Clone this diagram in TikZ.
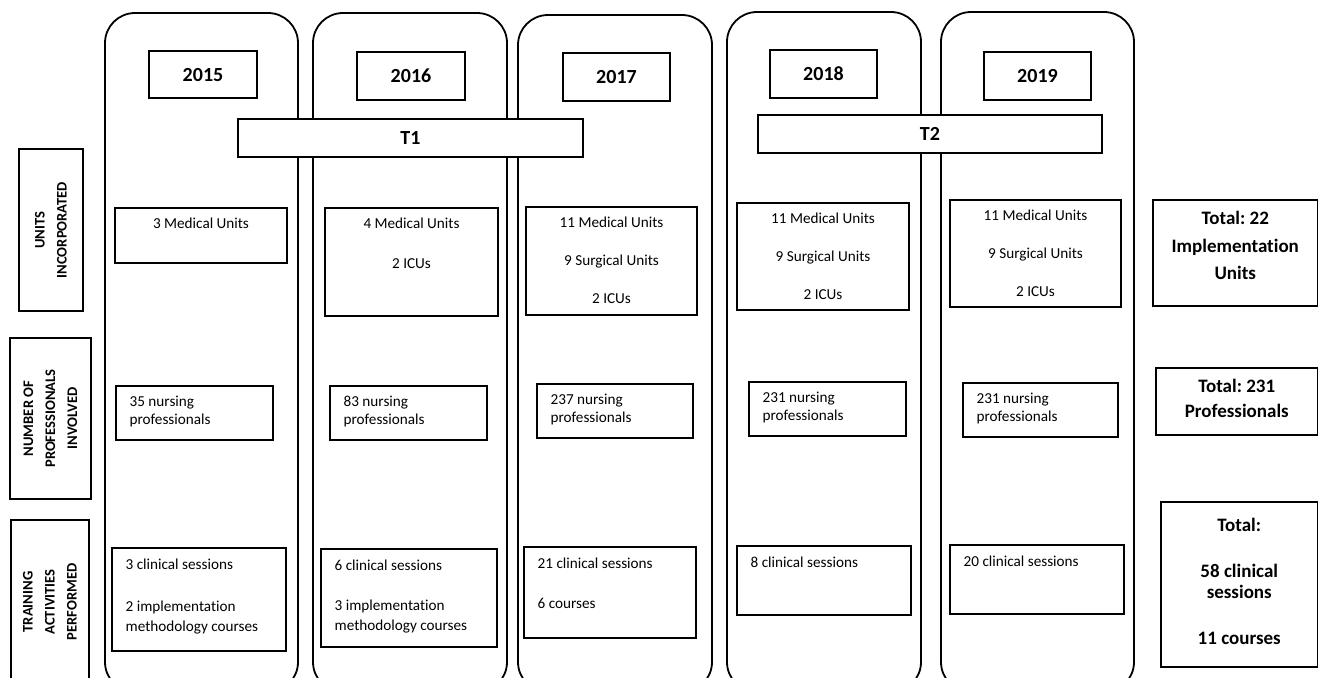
\documentclass[tikz,border=0pt]{standalone}
\usepackage{fontspec}
\setmainfont{Carlito}[Ligatures=NoCommon]
\frenchspacing
\usetikzlibrary{positioning, fit}

\begin{document}
\begin{tikzpicture}[x=0.5pt, y=-0.5pt,
  column/.style={draw, line width=0.9pt, rounded corners=15pt, inner sep=0pt},
  cell/.style={draw, line width=0.75pt, inner sep=0pt, fill=white},
  yeartxt/.style={inner sep=0pt, font=\bfseries\fontsize{10}{12}\selectfont},
  sidetxt/.style={rotate=90, align=center, inner sep=0pt, font=\bfseries\fontsize{7.3}{11}\selectfont},
  unittxt/.style={anchor=north, align=center, inner sep=0pt, yshift=-5.2pt, font=\fontsize{7.6}{10}\selectfont},
  lefttxt/.style={anchor=north west, align=left, inner sep=0pt, xshift=7pt, yshift=-5.4pt, font=\fontsize{7.6}{9}\selectfont},
  totaltxt/.style={anchor=north, align=center, inner sep=0pt, yshift=-6pt, font=\bfseries\fontsize{9.5}{12.5}\selectfont}]

\useasboundingbox (0,0) rectangle (1319,677);

% year columns
\node[column, fit={(105,13) (298,692)}] (c15) {};
\node[column, fit={(313,13) (507,692)}] (c16) {};
\node[column, fit={(518,15) (712,692)}] (c17) {};
\node[column, fit={(727,12) (921,692)}] (c18) {};
\node[column, fit={(941,12) (1134,692)}] (c19) {};

\node[cell, fit={(149,51) (257,98)}] (y15) {}; \node[yeartxt] at (y15) {2015};
\node[cell, fit={(357,52) (465,100)}] (y16) {}; \node[yeartxt] at (y16) {2016};
\node[cell, fit={(563,53) (670,101)}] (y17) {}; \node[yeartxt] at (y17) {2017};
\node[cell, fit={(770,50) (877,98)}] (y18) {}; \node[yeartxt] at (y18) {2018};
\node[cell, fit={(984,52) (1091,100)}] (y19) {}; \node[yeartxt] at (y19) {2019};

\node[cell, fit={(238,119) (583,157)}] (t1) {}; \node[yeartxt] at (t1) {T1};
\node[cell, fit={(758,115) (1102,153)}] (t2) {}; \node[yeartxt] at (t2) {T2};

% row headings
\node[cell, fit={(19,149) (83,311)}] (hunits) {};
\node[sidetxt] at (hunits) {UNITS\\INCORPORATED};
\node[cell, fit={(10,338) (91,499)}] (hprof) {};
\node[sidetxt] at (hprof) {NUMBER OF\\PROFESSIONALS\\INVOLVED};
\node[cell, fit={(11,520) (89,700)}] (htrain) {};
\node[sidetxt] at (50,602) {TRAINING\\ACTIVITIES\\PERFORMED};

% units incorporated
\node[cell, fit={(115,208) (287,263)}] (u15) {};
\node[unittxt] at (u15.north) {3 Medical Units};
\node[cell, fit={(325,208) (498,316)}] (u16) {};
\node[unittxt] at (u16.north) {4 Medical Units\\[10pt]2 ICUs};
\node[cell, fit={(526,207) (697,315)}] (u17) {};
\node[unittxt] at (u17.north) {11 Medical Units\\[9pt]9 Surgical Units\\[9pt]2 ICUs};
\node[cell, fit={(737,203) (909,310)}] (u18) {};
\node[unittxt] at (u18.north) {11 Medical Units\\[9pt]9 Surgical Units\\[9pt]2 ICUs};
\node[cell, fit={(950,200) (1121,307)}] (u19) {};
\node[unittxt] at (u19.north) {11 Medical Units\\[9pt]9 Surgical Units\\[9pt]2 ICUs};

% professionals involved
\node[cell, fit={(116,386) (273,440)}] (p15) {};
\node[lefttxt] at (p15.north west) {35 nursing\\professionals};
\node[cell, fit={(330,386) (487,440)}] (p16) {};
\node[lefttxt] at (p16.north west) {83 nursing\\professionals};
\node[cell, fit={(537,384) (693,438)}] (p17) {};
\node[lefttxt] at (p17.north west) {237 nursing\\professionals};
\node[cell, fit={(749,382) (906,436)}] (p18) {};
\node[lefttxt] at (p18.north west) {231 nursing\\professionals};
\node[cell, fit={(963,383) (1118,437)}] (p19) {};
\node[lefttxt] at (p19.north west) {231 nursing\\professionals};

% training activities
\node[cell, fit={(112,548) (286,651)}] (a15) {};
\node[lefttxt, font=\fontsize{7.6}{10}\selectfont] at (a15.north west) {3 clinical sessions\\[11pt]2 implementation\\methodology courses};
\node[cell, fit={(321,549) (497,647)}] (a16) {};
\node[lefttxt, font=\fontsize{7.6}{10}\selectfont] at (a16.north west) {6 clinical sessions\\[10pt]3 implementation\\methodology courses};
\node[cell, fit={(524,547) (696,638)}] (a17) {};
\node[lefttxt, font=\fontsize{7.6}{10}\selectfont] at (a17.north west) {21 clinical sessions\\[10pt]6 courses};
\node[cell, fit={(737,546) (911,615)}] (a18) {};
\node[lefttxt] at (a18.north west) {8 clinical sessions};
\node[cell, fit={(950,545) (1124,614)}] (a19) {};
\node[lefttxt] at (a19.north west) {20 clinical sessions};

% totals
\node[cell, fit={(1153,200) (1317.5,306)}] (tunits) {};
\node[totaltxt] at (tunits.north) {Total: 22\\[1.25pt]Implementation\\[1.25pt]Units};
\node[cell, fit={(1156,368) (1317.5,435)}] (tprof) {};
\node[totaltxt] at (tprof.north) {Total: 231\\Professionals};
\node[cell, fit={(1161,502) (1317.5,667)}] (ttrain) {};
\node[totaltxt, yshift=-2.5pt, font=\bfseries\fontsize{9.5}{10.5}\selectfont] at (ttrain.north) {Total:\\[12.5pt]58 clinical\\sessions\\[12.5pt]11 courses};
\end{tikzpicture}
\end{document}
